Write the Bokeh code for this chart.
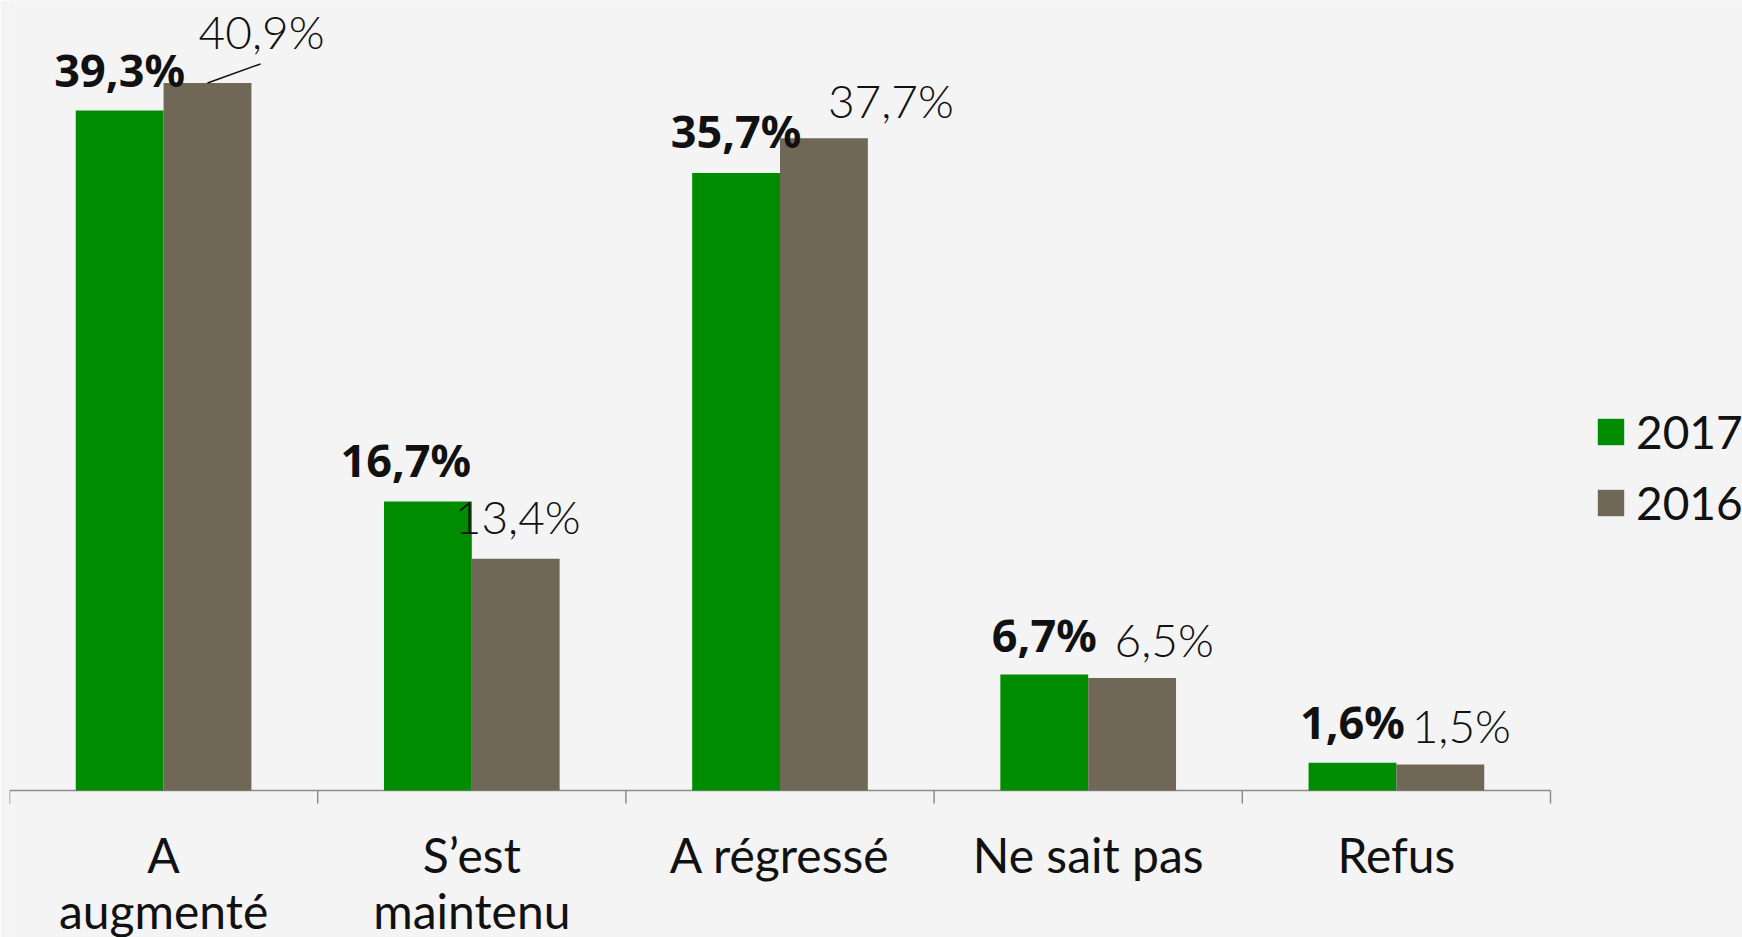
from bokeh.plotting import figure
from bokeh.models import ColumnDataSource, Legend, LegendItem, Range1d
from bokeh.transform import dodge
from bokeh.core.properties import value
from bokeh.embed import file_html
from bokeh.resources import INLINE

# ---- data ----
categories = ["A\naugmenté", "S’est\nmaintenu", "A régressé", "Ne sait pas", "Refus"]
series_names = ["2017", "2016"]
values_2017 = [39.3, 16.7, 35.7, 6.7, 1.6]
values_2016 = [40.9, 13.4, 37.7, 6.5, 1.5]

# label placement (screen px, relative to bar top centre)
dx_2017 = [0, -22, 0, 0, 0]
dy_2017 = [-41, -42, -42, -40, -41]
dx_2016 = [54, 2, 67, 32, 21]
dy_2016 = [-51, -42, -38, -39, -39]

GREEN = "#008c00"
BROWN = "#706757"
BG = "#f4f4f4"
TXT = "#111111"
AXIS = "#8c8c8c"


def fmt(v):
    return f"{v:.1f}%".replace(".", ",")


n = len(categories)
centers = [i + 0.5 for i in range(n)]
bounds = list(range(n + 1))

PX_PER_UNIT_Y = 17.3   # pixels per percentage point
PX_PER_CAT = 308.2     # pixels per category slot

src = ColumnDataSource(dict(
    xc=centers,
    v17=values_2017, v16=values_2016,
    l17=[fmt(v) for v in values_2017], l16=[fmt(v) for v in values_2016],
    dx17=dx_2017, dy17=dy_2017, dx16=dx_2016, dy16=dy_2016,
))

W_FIG, H_FIG = 1742, 937
LEFT = 9
BASE_FROM_TOP = 790           # pixel row where value 0 sits
y_top = BASE_FROM_TOP / PX_PER_UNIT_Y
y_bot = -(H_FIG - BASE_FROM_TOP) / PX_PER_UNIT_Y
x_end = (W_FIG - LEFT) / PX_PER_CAT

p = figure(x_range=Range1d(0, x_end), y_range=Range1d(y_bot, y_top),
           width=W_FIG, height=H_FIG, output_backend="svg", toolbar_location=None,
           x_axis_location=None, y_axis_location=None,
           min_border_left=LEFT, min_border_right=0, min_border_top=0, min_border_bottom=0,
           background_fill_color=BG, border_fill_color=BG, outline_line_color=None)
p.grid.visible = False

# category baseline and boundary ticks
base = ColumnDataSource(dict(x0=[bounds[0]], x1=[bounds[-1]], y=[0]))
p.segment(x0="x0", x1="x1", y0="y", y1="y", line_color=AXIS, line_width=1.5, source=base)
tick_len = 13 / PX_PER_UNIT_Y
ticks = ColumnDataSource(dict(x=bounds, y0=[0] * len(bounds), y1=[-tick_len] * len(bounds)))
p.segment(x0="x", x1="x", y0="y0", y1="y1", line_color=AXIS, line_width=1.5, source=ticks)

W = 0.285
r17 = p.vbar(x=dodge("xc", -W / 2), top="v17", width=W,
             fill_color=GREEN, line_color=None, source=src)
r16 = p.vbar(x=dodge("xc", W / 2), top="v16", width=W,
             fill_color=BROWN, line_color=None, source=src)

# category labels
cat_src = ColumnDataSource(dict(xc=centers, cat=categories, y=[0] * n))
p.text(x="xc", y="y", text="cat", y_offset=35, text_align="center", text_baseline="top",
       text_font=value("Lato"), text_font_size="48px", text_line_height=0.99,
       text_color=TXT, source=cat_src)

p.text(x=dodge("xc", -W / 2), y="v17", text="l17",
       x_offset="dx17", y_offset="dy17", text_align="center", text_baseline="middle",
       text_font=value("Noto Sans"), text_font_style="bold", text_font_size="45px",
       text_color=TXT, source=src)
p.text(x=dodge("xc", W / 2), y="v16", text="l16",
       x_offset="dx16", y_offset="dy16", text_align="center", text_baseline="middle",
       text_font=value("Lato Light, Lato"), text_font_size="46px",
       text_color=TXT, source=src)

# leader line for the first 2016 label
lead = ColumnDataSource(dict(xc=centers[:1], y0=values_2016[:1],
                             y1=[values_2016[0] + 19 / PX_PER_UNIT_Y]))
p.segment(x0=dodge("xc", W / 2), y0="y0",
          x1=dodge("xc", W / 2 + 53 / PX_PER_CAT), y1="y1",
          line_color=TXT, line_width=1.5, source=lead)

legend = Legend(items=[LegendItem(label=series_names[0], renderers=[r17]),
                       LegendItem(label=series_names[1], renderers=[r16])],
                location=(1585, 407), glyph_width=33, glyph_height=33,
                label_standoff=9, label_text_font="Lato", label_text_font_size="46px",
                label_text_color=TXT, padding=0, margin=0, spacing=16,
                background_fill_alpha=0, border_line_color=None)
p.add_layout(legend)

open("out.html", "w").write(file_html(p, INLINE))
